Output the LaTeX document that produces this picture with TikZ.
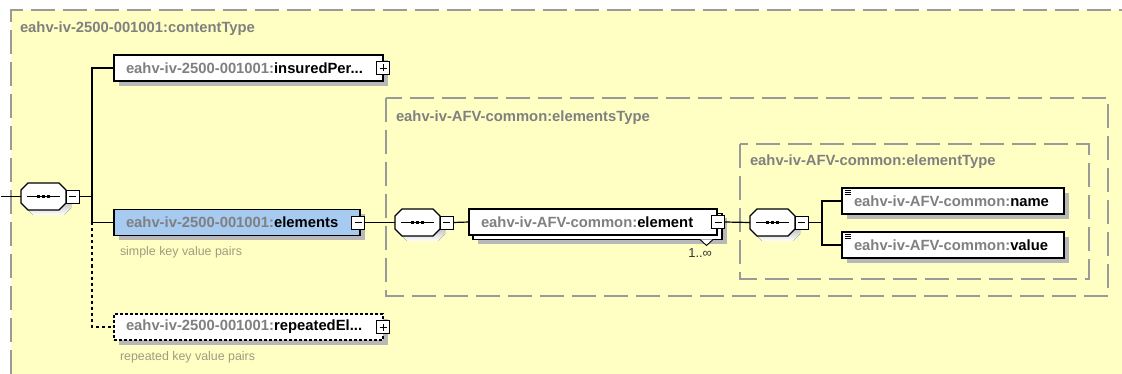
\documentclass[tikz,border=0pt]{standalone}
\usepackage{fontspec}
\setmainfont{Liberation Sans}
\usetikzlibrary{shadows}

\definecolor{paper}{HTML}{FFFFC4}
\definecolor{framegray}{HTML}{9A9A9A}
\definecolor{nsgray}{HTML}{808080}
\definecolor{shade}{HTML}{B8B8B8}
\definecolor{selblue}{HTML}{A6CAF0}
\definecolor{annot}{HTML}{A39A7E}
\definecolor{multtext}{HTML}{333333}

% namespace prefix of a qualified name
\newcommand\ns[1]{{\color{nsgray}#1}}

% octagon outline around a sequence node
\newcommand\octpath[1]{([xshift=7pt]#1.north west) -- ([xshift=-7pt]#1.north east)
  -- ([yshift=-7pt]#1.north east) -- ([yshift=7pt]#1.south east)
  -- ([xshift=-7pt]#1.south east) -- ([xshift=7pt]#1.south west)
  -- ([yshift=7pt]#1.south west) -- ([yshift=-7pt]#1.north west) -- cycle}

% sequence compositor: shadow, octagon and dotted bar
\newcommand\seqdraw[1]{%
  \fill[shade, transform canvas={xshift=5pt, yshift=-5pt}] \octpath{#1};
  \draw[fill=white, line width=1.2pt] \octpath{#1};
  \draw[line width=1.1pt] ([xshift=6pt]#1.west) -- ([xshift=-6pt]#1.east);
  \foreach \d in {-5pt,0pt,5pt}
    \fill ([xshift=\d]#1.center) +(-1.6,-1.6) rectangle +(1.6,1.6);}

\begin{document}
\begin{tikzpicture}[x=1pt,y=-1pt,
  every node/.style={inner sep=0pt, outer sep=0pt},
  frame/.style={draw=framegray, line width=1.4pt, dash pattern=on 24pt off 8pt},
  typetitle/.style={anchor=base west, text=nsgray, font=\bfseries\fontsize{14.8}{16}\selectfont},
  shadowed/.style={drop shadow={shadow xshift=5pt, shadow yshift=-5pt, fill=shade, opacity=1}},
  box/.style={draw=black, fill=white, line width=1.1pt, rectangle, minimum height=26pt,
    inner xsep=12pt, align=left, anchor=west, font=\bfseries\fontsize{14.8}{16}\selectfont},
  elem/.style={box, shadowed},
  seqbox/.style={rectangle, minimum width=45pt, minimum height=27pt, anchor=west},
  toggle/.style={draw=black, fill=white, line width=0.9pt, minimum size=13pt, anchor=west},
  minus/.style={toggle, path picture={
    \draw[line width=0.9pt] ([xshift=3pt]path picture bounding box.west) -- ([xshift=-3pt]path picture bounding box.east);}},
  plus/.style={toggle, path picture={
    \draw[line width=0.9pt] ([xshift=3pt]path picture bounding box.west) -- ([xshift=-3pt]path picture bounding box.east);
    \draw[line width=0.9pt] ([yshift=3pt]path picture bounding box.south) -- ([yshift=-3pt]path picture bounding box.north);}},
  wire/.style={draw=black, line width=1.2pt},
  optwire/.style={wire, dash pattern=on 3pt off 3pt},
  note/.style={anchor=base west, text=annot, font=\fontsize{12.4}{14}\selectfont},
]
\useasboundingbox (0,0) rectangle (1122,374);

% canvas and the content type frame
\fill[white] (0,0) rectangle (1122,374);
\fill[paper] (11,10) rectangle (1122,374);
\draw[frame] (11,374) -- (11,10) -- (1122,10);
\node[typetitle] (ctTitle) at (20,33) {eahv-iv-2500-001001:contentType};

% nested complex types
\draw[frame] (386,98) rectangle (1108,296);
\node[typetitle] (esTitle) at (396,122) {eahv-iv-AFV-common:elementsType};
\draw[frame] (740,144) rectangle (1089,279);
\node[typetitle] (eTitle) at (750,166) {eahv-iv-AFV-common:elementType};

% top-level sequence
\coordinate (in) at (1,196.5);
\node[seqbox] (s1) at (21,196.5) {};
\seqdraw{s1}
\node[minus] (t1) at (s1.east) {};
\coordinate (j1) at (92,196.5);

% children of contentType
\node[elem, minimum width=269pt, text width=245pt] (ins) at (114,68)
  {\ns{eahv-iv-2500-001001:}insuredPer...};
\node[plus, anchor=center] (insT) at (ins.east) {};

\node[elem, fill=selblue, minimum width=246pt, text width=222pt] (elm) at (114,222.5)
  {\ns{eahv-iv-2500-001001:}elements};
\node[minus, anchor=center] (elmT) at ([xshift=-2pt]elm.east) {};
\node[note] (elmNote) at (120,255) {simple key value pairs};

\node[elem, dash pattern=on 3pt off 2pt, minimum width=269pt, text width=245pt] (rep) at (114,327)
  {\ns{eahv-iv-2500-001001:}repeatedEl...};
\node[plus, anchor=center] (repT) at (rep.east) {};
\node[note] (repNote) at (120,360) {repeated key value pairs};

% elementsType sequence
\node[seqbox] (s2) at (395,222.5) {};
\seqdraw{s2}
\node[minus] (t2) at (s2.east) {};

% repeated element (stacked boxes)
\node[elem, minimum width=249pt] (elBack) at (473,226.5) {};
\draw[fill=white, line width=0.9pt] ([xshift=-22pt]elBack.south east)
  -- ([xshift=-15.5pt,yshift=-6pt]elBack.south east) -- ([xshift=-9pt]elBack.south east);
\node[box, minimum width=248pt, text width=224pt] (el) at (469,222)
  {\ns{eahv-iv-AFV-common:}element};
\node[minus, anchor=center] (elT) at ([xshift=1pt]el.east) {};
\node[anchor=base east, text=multtext, font=\fontsize{13}{14}\selectfont] (elMult) at (712,258) {1..∞};

% elementType sequence
\node[seqbox] (s3) at (750,222.5) {};
\seqdraw{s3}
\node[minus] (t3) at (s3.east) {};
\coordinate (j3) at (822,222.5);

\node[elem, minimum width=222pt, text width=198pt] (nm) at (842,201)
  {\ns{eahv-iv-AFV-common:}name};
\node[elem, minimum width=222pt, text width=198pt] (val) at (842,245)
  {\ns{eahv-iv-AFV-common:}value};
% simple-content markers
\foreach \n in {nm,val}
  \foreach \k in {-2pt,-4.2pt,-6.4pt}
    \draw[line width=0.7pt] ([xshift=2.5pt,yshift=\k]\n.north west) -- ++(6.5,0);

% connectors
\draw[wire] (in) -- (s1.west);
\draw[wire] (t1.east) -- (j1);
\draw[wire] (ins.west) -| (j1) |- (elm.west);
\draw[optwire] (elm.west -| j1) |- (rep.west);
\draw[wire] (elmT.east) -- (s2.west);
\draw[wire] (t2.east) -- (el.west);
\draw[wire] (elT.east) -- (s3.west);
\draw[wire] (t3.east) -- (j3);
\draw[wire] (nm.west) -| (j3) |- (val.west);
\end{tikzpicture}
\end{document}
